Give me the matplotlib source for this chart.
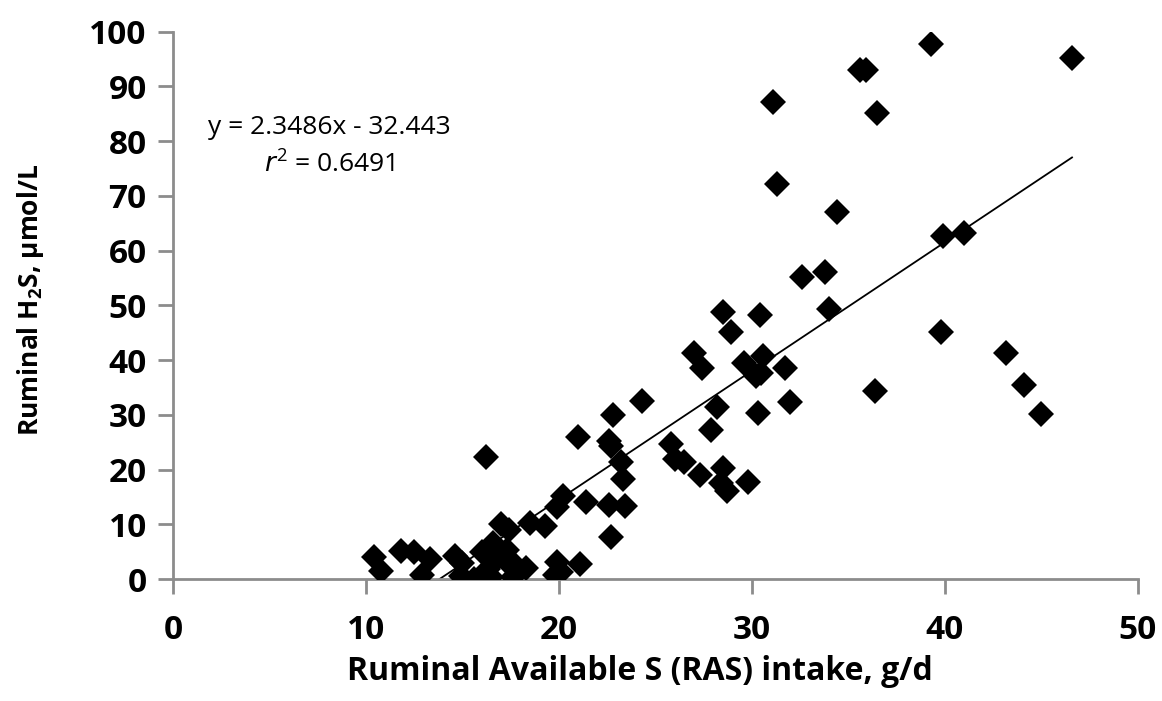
import matplotlib.pyplot as plt

# Ruminal available S intake (g/d) and ruminal H2S (umol/L)
ras_intake = [
    10.4, 10.8, 11.8, 12.5, 13.3, 12.9, 14.6, 15.0, 14.9, 15.6,
    16.1, 16.0, 16.3, 16.6, 17.0, 17.4, 17.3, 17.6, 17.6, 18.3,
    18.5, 19.3, 19.9, 19.8, 20.1, 21.1, 20.2, 19.9, 21.4, 22.6,
    23.4, 22.7, 16.2, 16.9, 17.2, 16.5,
    21.0, 22.6, 22.7, 22.8, 24.3, 23.2, 23.3, 25.8, 26.0, 26.5,
    27.3, 28.5, 28.4, 28.7, 29.8, 27.9, 28.2, 27.0, 27.4, 28.5,
    28.9, 29.6, 30.4, 30.6, 30.2, 30.5, 30.3, 31.7, 32.0, 32.6,
    33.8, 34.0, 34.4, 31.1, 31.3, 35.6, 35.9, 36.5, 39.3, 46.6,
    39.9, 41.0, 39.8, 36.4, 43.2, 44.1, 45.0,
]
h2s = [
    4.1, 1.4, 5.1, 4.9, 3.6, 0.8, 4.2, 3.0, 0.5, 0.0,
    0.2, 5.0, 1.8, 6.6, 10.0, 9.0, 5.3, 2.9, 0.4, 2.0,
    10.3, 9.6, 3.2, 0.8, 1.2, 2.7, 15.1, 13.2, 14.0, 13.6,
    13.4, 7.7, 22.2, 4.2, 3.5, 0.3,
    26.0, 25.2, 24.3, 30.0, 32.6, 21.3, 18.3, 24.6, 22.0, 21.4,
    19.0, 20.3, 17.5, 16.0, 17.8, 27.2, 31.5, 41.3, 38.6, 48.7,
    45.2, 39.4, 48.3, 40.8, 37.0, 37.6, 30.3, 38.5, 32.4, 55.1,
    56.0, 49.4, 67.1, 87.2, 72.1, 92.9, 92.9, 85.2, 97.7, 95.1,
    62.7, 63.2, 45.2, 34.3, 41.3, 35.5, 30.1,
]

# trendline from the printed equation
slope = 2.3486
intercept = -32.443
r2 = 0.6491
x_min = -intercept / slope
x_max = max(ras_intake)

plt.rcParams['font.family'] = ['Open Sans', 'DejaVu Sans']

fig = plt.figure(figsize=(11.62, 7.01), dpi=100)
ax = fig.add_axes([0.149, 0.174, 0.830, 0.781])

ax.plot(ras_intake, h2s, ls='none', marker='D', markersize=13.5,
        color='black', markeredgewidth=0, zorder=3)
ax.plot([x_min, x_max], [slope * x_min + intercept, slope * x_max + intercept],
        color='black', lw=1.3, zorder=2)

ax.set_xlim(0, 50)
ax.set_ylim(0, 100)
ax.set_xticks(range(0, 51, 10))
ax.set_yticks(range(0, 101, 10))

for side in ['top', 'right']:
    ax.spines[side].set_visible(False)
for side in ['left', 'bottom']:
    ax.spines[side].set_color('#8c8c8c')
    ax.spines[side].set_linewidth(2)
ax.tick_params(axis='both', color='#8c8c8c', width=2, length=11, direction='out')
ax.tick_params(axis='x', pad=14)
ax.tick_params(axis='y', pad=8)
for lbl in ax.get_xticklabels() + ax.get_yticklabels():
    lbl.set_fontsize(24)
    lbl.set_fontweight('bold')

ax.set_xlabel('Ruminal Available S (RAS) intake, g/d', fontsize=23,
              fontweight='bold')
ax.set_ylabel('Ruminal H$_\\mathregular{2}$S, µmol/L', fontsize=19,
              fontweight='bold')
ax.xaxis.set_label_coords(0.484, -0.138)
ax.yaxis.set_label_coords(-0.132, 0.51)

ax.text(8.1, 82.4, f'y = {slope}x - {abs(intercept)}', fontsize=19,
        ha='center', va='center')
ax.text(8.1, 75.8, f'$\\mathit{{r}}^\\mathregular{{2}}$ = {r2}', fontsize=19,
        ha='center', va='center')

fig.savefig('out.png', dpi=100)
